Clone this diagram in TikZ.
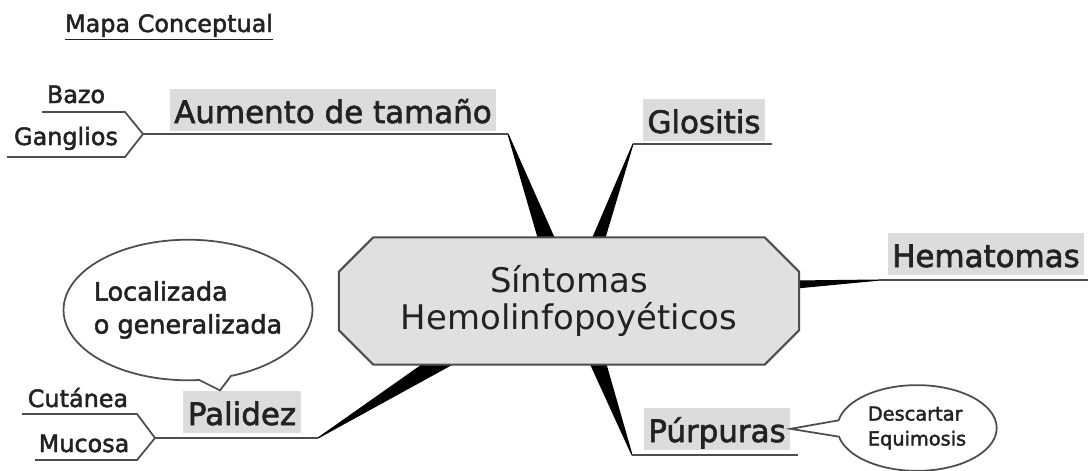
\documentclass[tikz,border=0pt]{standalone}
\usepackage{fontspec}
\setmainfont[AutoFakeBold=2]{DejaVu Sans}
\usetikzlibrary{calc,backgrounds,shapes.misc,shapes.callouts}
\definecolor{labelgray}{HTML}{DCDCDC}
\definecolor{hubgray}{HTML}{E0E0E0}
\definecolor{linegray}{HTML}{4D4D4D}
\definecolor{inkgray}{HTML}{222222}

\begin{document}
\begin{tikzpicture}[x=0.02cm,y=-0.02cm,
  topic/.style={fill=labelgray,text=inkgray,inner xsep=2.5pt,inner ysep=0pt,text height=19.5pt,text depth=4.5pt,anchor=base,font=\fontsize{17.6}{21}\selectfont\bfseries},
  hub/.style={chamfered rectangle,chamfered rectangle xsep=16pt,draw=linegray,line width=1.2pt,fill=hubgray,text=inkgray,minimum width=262pt,minimum height=72.5pt,align=center,font=\fontsize{19.3}{21.5}\selectfont},
  leaf/.style={text=inkgray,inner sep=0pt,anchor=base,font=\fontsize{13.6}{16}\selectfont\bfseries},
  twig/.style={draw=linegray,line width=1pt},
  under/.style={draw=linegray,line width=1.1pt},
  wedge/.style={fill=black,draw=black,line width=0.6pt,line join=round},
  bubble/.style={ellipse callout,draw=linegray,line width=1pt,fill=white,text=inkgray,align=left,inner ysep=0pt}]

\useasboundingbox (0,0) rectangle (1088,470);

\node at (169,32) [leaf] (title) {\underline{Mapa Conceptual}};

% centre
\node at (569,301) [hub] (hub) {Síntomas\\Hemolinfopoyéticos};

% branch labels
\node at (333,123) [topic] (aumento) {Aumento de tamaño};
\node at (704,133) [topic] (glositis) {Glositis};
\node at (986,267) [topic] (hematomas) {Hematomas};
\node at (717,442) [topic] (purpuras) {Púrpuras};
\node at (242,425) [topic] (palidez) {Palidez};

\coordinate (aumentoEnd) at (508,134);
\coordinate (glositisEnd) at (633,144);
\coordinate (glositisTail) at (772,144);
\coordinate (hematomasEnd) at (880,280);
\coordinate (hematomasTail) at (1088,280);
\coordinate (purpurasEnd) at (632,455);
\coordinate (purpurasTail) at (798,455);
\coordinate (palidezEnd) at (318,438);
\coordinate (bazoTip) at (143,134);
\coordinate (cutaneaTip) at (155,438);

% wedges
\begin{scope}[on background layer]
\fill[wedge] (aumentoEnd) -- ($(hub.north)+(-29,8)$) -- ($(hub.north)+(-12,8)$) -- cycle;
\fill[wedge] (glositisEnd) -- ($(hub.north)+(21,8)$) -- ($(hub.north)+(34,8)$) -- cycle;
\fill[wedge] (hematomasEnd) -- ($(hub.east)+(-4,-20)$) -- ($(hub.east)+(-4,-13)$) -- cycle;
\fill[wedge] (purpurasEnd) -- ($(hub.south)+(20,-5)$) -- ($(hub.south)+(36,-5)$) -- cycle;
\fill[wedge] (palidezEnd) -- ($(hub.south)+(-144,-3)$) -- ($(hub.south)+(-114,-3)$) -- cycle;
\end{scope}

\draw[under] (bazoTip) -- (aumentoEnd);
\draw[under] (glositisEnd) -- (glositisTail);
\draw[under] (hematomasEnd) -- (hematomasTail);
\draw[under] (purpurasEnd) -- (purpurasTail);
\draw[under] (cutaneaTip) -- (palidezEnd);

% sub items
\node at (76,103) [leaf] (bazo) {Bazo};
\node at (66,145) [leaf] (ganglios) {Ganglios};
\draw[twig] (42,112) -- (125,112) -- (bazoTip) -- (125,157) -- (7,157);

\node at (78,407) [leaf] (cutanea) {Cutánea};
\node at (84,452) [leaf] (mucosa) {Mucosa};
\draw[twig] (22,414) -- (137,414) -- (cutaneaTip) -- (137,460) -- (35,460);

% notes
\node at (188,310) [bubble,inner xsep=-10pt,minimum width=141.7pt,minimum height=80pt,
  callout absolute pointer={($(palidez.north)+(-22,0)$)},
  font=\fontsize{14.5}{18.7}\selectfont\bfseries] (localizada) {Localizada\\o generalizada};
\node at (917,428) [bubble,inner xsep=-6pt,minimum width=90.7pt,minimum height=48.8pt,
  callout absolute pointer={(purpuras.east)},callout pointer arc=22,
  font=\fontsize{11}{14.2}\selectfont\bfseries] (equimosis) {Descartar\\Equimosis};

\end{tikzpicture}
\end{document}
